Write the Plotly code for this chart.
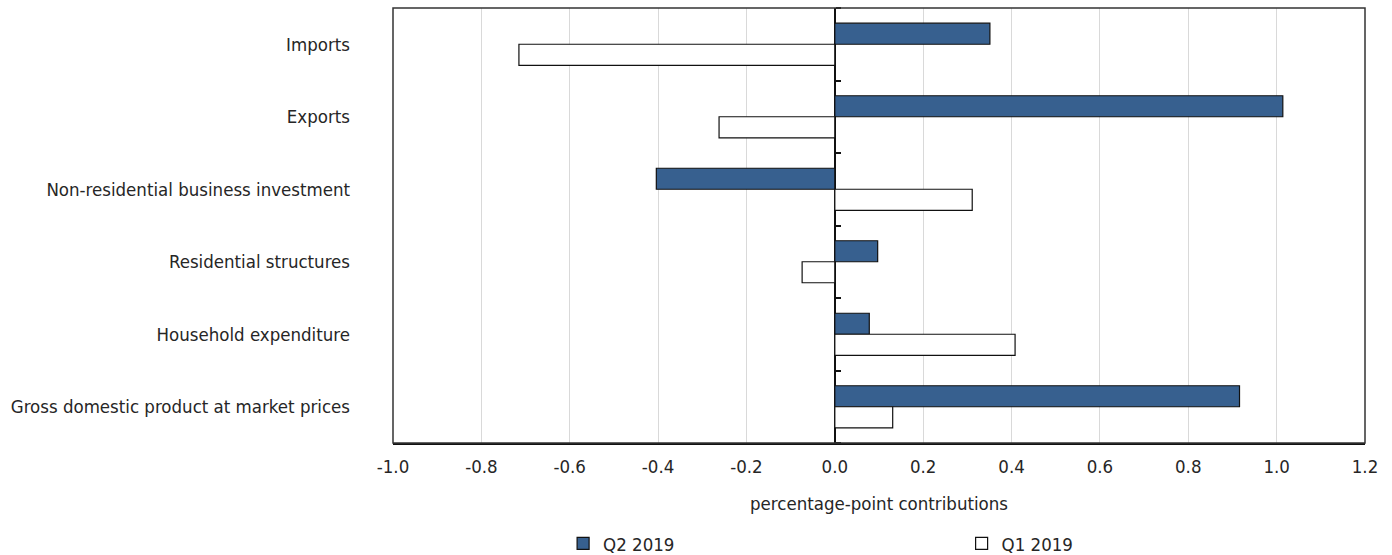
import plotly.graph_objects as go

categories = ["Imports", "Exports", "Non-residential business investment",
              "Residential structures", "Household expenditure",
              "Gross domestic product at market prices"]
q2_2019 = [0.351, 1.014, -0.404, 0.097, 0.078, 0.916]
q1_2019 = [-0.715, -0.262, 0.311, -0.074, 0.408, 0.131]
x_ticks = [-1.0, -0.8, -0.6, -0.4, -0.2, 0.0, 0.2, 0.4, 0.6, 0.8, 1.0, 1.2]
x_title = "percentage-point contributions"

FONT = "DejaVu Sans Condensed, Liberation Sans Narrow, sans-serif"
TXT = "#262626"
FS = 18.5

fig = go.Figure()
fig.add_trace(go.Bar(y=categories, x=q2_2019, orientation="h", name="Q2 2019",
                     legend="legend",
                     marker=dict(color="#37608f", line=dict(color="#111111", width=1.2))))
fig.add_trace(go.Bar(y=categories, x=q1_2019, orientation="h", name="Q1 2019",
                     legend="legend2",
                     marker=dict(color="#ffffff", line=dict(color="#111111", width=1.2))))

xmin, xmax = x_ticks[0], x_ticks[-1]
zero_pos = (0 - xmin) / (xmax - xmin)

leg_common = dict(orientation="h", yanchor="middle", y=-0.232, xanchor="left",
                  itemwidth=30, font=dict(family=FONT, size=FS, color=TXT),
                  bgcolor="rgba(0,0,0,0)")

fig.update_layout(
    width=1392, height=555,
    margin=dict(l=393, r=27, t=8, b=112, autoexpand=False),
    paper_bgcolor="white", plot_bgcolor="white",
    font=dict(family=FONT, size=FS, color=TXT),
    barmode="group", bargap=0.42, bargroupgap=0,
    showlegend=True,
    legend=dict(x=0.175, **leg_common),
    legend2=dict(x=0.585, **leg_common),
    xaxis=dict(range=[xmin, xmax], tickvals=x_ticks,
               ticktext=[f"{v:.1f}" for v in x_ticks],
               showgrid=True, gridcolor="#d9d9d9", gridwidth=1,
               zeroline=True, zerolinecolor="#111111", zerolinewidth=1.5,
               showline=True, linecolor="#111111", linewidth=2,
               ticks="outside", ticklen=6, tickcolor="rgba(0,0,0,0)",
               title=dict(text=x_title, standoff=21, font=dict(size=FS, color=TXT))),
    yaxis=dict(categoryorder="array", categoryarray=categories, autorange="reversed",
               showgrid=False, zeroline=False, showline=False,
               ticks="", ticklabelstandoff=42),
    yaxis2=dict(overlaying="y", anchor="free", position=zero_pos, side="right",
                range=[len(categories) - 0.5, -0.5],
                tickvals=[i + 0.5 for i in range(-1, len(categories))],
                showticklabels=False, ticks="outside", ticklen=5,
                tickcolor="#111111", tickwidth=1.5, showgrid=False,
                zeroline=False, showline=False),
    shapes=[dict(type="rect", xref="paper", yref="paper", x0=0, x1=1, y0=0, y1=1,
                 line=dict(color="#333333", width=1.5), fillcolor="rgba(0,0,0,0)",
                 layer="above")],
)
# invisible helper trace so the tick axis at zero is drawn
fig.add_trace(go.Scatter(x=[0], y=[0], yaxis="y2", mode="markers",
                         marker=dict(opacity=0), showlegend=False, hoverinfo="skip"))

fig.write_html("out.html", config={"displayModeBar": False},
               post_script="document.body.style.margin='0px';document.body.style.overflow='hidden';")
